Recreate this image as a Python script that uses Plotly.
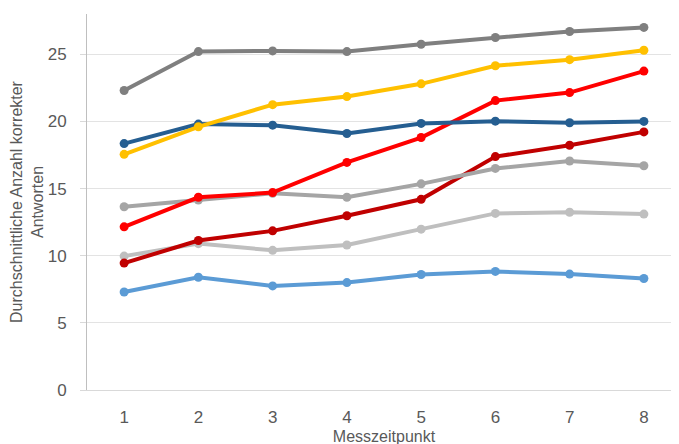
import plotly.graph_objects as go

x_vals = [1, 2, 3, 4, 5, 6, 7, 8]

s_darkgray = [22.3, 25.2, 25.25, 25.2, 25.75, 26.25, 26.7, 27.0]
s_yellow = [17.55, 19.6, 21.25, 21.85, 22.8, 24.15, 24.6, 25.3]
s_darkblue = [18.35, 19.8, 19.72, 19.1, 19.85, 20.02, 19.9, 20.0]
s_red = [12.15, 14.35, 14.7, 16.95, 18.8, 21.55, 22.15, 23.75]
s_midgray = [13.65, 14.15, 14.65, 14.35, 15.35, 16.5, 17.05, 16.7]
s_darkred = [9.45, 11.13, 11.85, 12.98, 14.2, 17.38, 18.23, 19.22]
s_lightgray = [9.97, 10.9, 10.4, 10.8, 11.98, 13.15, 13.24, 13.1]
s_lightblue = [7.3, 8.4, 7.75, 8.0, 8.6, 8.83, 8.63, 8.3]

series = [
    ("lightblue", s_lightblue, "#5B9BD5"),
    ("lightgray", s_lightgray, "#BFBFBF"),
    ("darkred", s_darkred, "#C00000"),
    ("midgray", s_midgray, "#A5A5A5"),
    ("red", s_red, "#FF0000"),
    ("darkblue", s_darkblue, "#255E91"),
    ("yellow", s_yellow, "#FFC000"),
    ("darkgray", s_darkgray, "#7F7F7F"),
]

fig = go.Figure()
for name, vals, col in series:
    fig.add_trace(go.Scatter(
        x=x_vals, y=vals, name=name, mode="lines+markers",
        line=dict(color=col, width=4),
        marker=dict(color=col, size=9),
        showlegend=False,
    ))

font_fam = "Liberation Sans, Arial, sans-serif"
fig.update_layout(
    width=679, height=444,
    margin=dict(l=79, r=6, t=6, b=62),
    plot_bgcolor="white", paper_bgcolor="white",
    font=dict(family=font_fam, color="#595959", size=16),
    xaxis=dict(
        range=[0.5, 8.5], tickmode="array", tickvals=x_vals,
        showgrid=False, showline=True, linecolor="#D9D9D9", linewidth=1,
        ticks="", ticklabelstandoff=12, zeroline=False, automargin=False,
        title=dict(text="Messzeitpunkt", standoff=4, font=dict(size=16, color="#595959")),
        tickfont=dict(size=17, color="#595959"),
    ),
    yaxis=dict(
        range=[0, 28], tickvals=[0, 5, 10, 15, 20, 25],
        showgrid=True, gridcolor="#E3E3E3", gridwidth=1,
        showline=True, linecolor="#BFBFBF", linewidth=1,
        zeroline=False, ticks="outside", ticklen=6, tickcolor="#D9D9D9",
        ticklabelstandoff=10, automargin=False,
        title=dict(text="Durchschnittliche Anzahl korrekter<br>Antworten", standoff=8,
                   font=dict(size=16, color="#595959")),
        tickfont=dict(size=17, color="#595959"),
    ),
)

fig.write_html("out.html")
